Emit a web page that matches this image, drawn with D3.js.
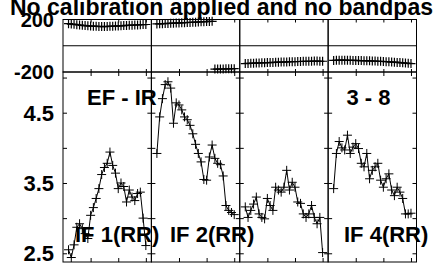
<!DOCTYPE html>
<html>
<head>
<meta charset="utf-8">
<script src="https://cdn.jsdelivr.net/npm/d3@7"></script>
<style>
  body { margin: 0; background: #fff; }
  svg { display: block; font-family: "Liberation Sans", Arial, sans-serif; font-weight: bold; }
  .frame { fill: none; stroke: #000; stroke-width: 1; }
  .axis path { display: none; }
  .axis line { stroke: #000; stroke-width: 1; }
</style>
</head>
<body>
<div id="chart-area"></div>
<script>
// DATA
var channels = [4, 6, 8, 10, 12, 14, 16, 18, 20, 22, 24, 26, 28, 30, 32, 34, 36, 38, 40, 42, 44, 46, 48, 50, 52, 54, 56, 58, 60];

var ampIF1 = [2.55, 2.44, 2.62, 2.87, 2.92, 2.85, 2.78, 2.71, 3.04, 3.15, 3.28, 3.42, 3.62, 3.72, 3.78, 3.94, 3.75, 3.64, 3.42, 3.50, 3.45, 3.23, 3.40, 3.30, 3.25, 3.35, 3.37, 3.00, 2.61];
var ampIF2 = [3.92, 4.44, 4.70, 4.90, 4.94, 4.85, 4.35, 4.64, 4.61, 4.54, 4.44, 4.40, 4.32, 4.20, 4.05, 3.92, 3.80, 3.55, 3.54, 3.87, 4.04, 3.85, 3.78, 3.76, 3.60, 3.18, 3.11, 3.08, 3.05];
var ampIF3 = [3.16, 3.01, 3.11, 3.20, 3.30, 3.06, 3.01, 2.99, 3.28, 3.18, 3.11, 3.44, 3.40, 3.37, 3.44, 3.68, 3.40, 3.51, 3.44, 3.23, 3.21, 3.06, 3.01, 3.06, 3.18, 3.01, 2.92, 3.01, 2.51];
var ampIF4 = [3.42, 3.92, 4.09, 4.00, 3.97, 4.18, 3.92, 4.01, 4.06, 3.99, 3.78, 3.73, 3.92, 3.56, 3.68, 3.73, 3.78, 3.54, 3.44, 3.56, 3.63, 3.40, 3.32, 3.44, 3.37, 3.28, 3.06, 3.06, 3.07];

var phaseIF1 = [168, 165, 163, 160, 158, 156, 154, 152, 150, 149, 148, 147, 146, 146, 147, 148, 149, 150, 151, 152, 154, 155, 156, 157, 158, 159, 160, 161, 162];
var phaseIF2 = [166, 167, 168, 169, 170, 171, 172, 173, 174, 175, 176, 177, 178, 179, 180, 181, 182, 183, 184, 185, 186, -178, -178, -177, -177, -176, -176, -175, -175];
var phaseIF3 = [-136, -135, -134, -133, -132, -131, -130, -129, -128, -128, -127, -126, -125, -124, -124, -123, -122, -122, -121, -120, -120, -119, -119, -118, -118, -117, -117, -118, -118];
var phaseIF4 = [-112, -111, -110, -110, -110, -111, -111, -112, -112, -113, -113, -114, -115, -115, -116, -117, -118, -119, -120, -121, -122, -124, -125, -127, -128, -130, -132, -134, -136];

var ampTicks = [2.5, 3.0, 3.5, 4.0, 4.5, 5.0];
var ampLabels = [2.5, 3.5, 4.5];
var phaseLabels = [200, -200];
var chanTicks = [20, 40, 60];

var panels = [
  { amp: ampIF1, phase: phaseIF1, label: "IF 1(RR)", lx: 75 },
  { amp: ampIF2, phase: phaseIF2, label: "IF 2(RR)", lx: 170 },
  { amp: ampIF3, phase: phaseIF3, label: "", lx: 0 },
  { amp: ampIF4, phase: phaseIF4, label: "IF 4(RR)", lx: 344 }
];

// LAYOUT
var W = 433, H = 264;
var left = 63, right = 416.5;
var pw = (right - left) / 4;
var phTop = 19.5, phBot = 72, ampBot = 262;

var svg = d3.select("#chart-area").append("svg")
    .attr("width", W)
    .attr("height", H);

var yPh = d3.scaleLinear().domain([-200, 200]).range([phBot, phTop]);
var yAmp = d3.scaleLinear().domain([2.376, 5.079]).range([ampBot, phBot]);

var cross = "M-4.5,0H4.5M0,-4.5V4.5";

panels.forEach(function(p, i) {
    var x0 = left + i * pw;
    var x = d3.scaleLinear().domain([0, 64]).range([x0, x0 + pw]);
    var g = svg.append("g");

    // ticks
    g.append("g").attr("class", "axis")
        .attr("transform", "translate(0," + phBot + ")")
        .call(d3.axisBottom(x).tickValues(chanTicks).tickSize(-3).tickFormat(""));
    g.append("g").attr("class", "axis")
        .attr("transform", "translate(0," + phTop + ")")
        .call(d3.axisTop(x).tickValues(chanTicks).tickSize(-3).tickFormat(""));
    g.append("g").attr("class", "axis")
        .attr("transform", "translate(0," + phBot + ")")
        .call(d3.axisTop(x).tickValues(chanTicks).tickSize(-4).tickFormat(""));
    g.append("g").attr("class", "axis")
        .attr("transform", "translate(0," + ampBot + ")")
        .call(d3.axisBottom(x).tickValues(chanTicks).tickSize(-4).tickFormat(""));
    g.append("g").attr("class", "axis")
        .attr("transform", "translate(" + x0 + ",0)")
        .call(d3.axisLeft(yAmp).tickValues(ampTicks).tickSize(-4).tickFormat(""));
    g.append("g").attr("class", "axis")
        .attr("transform", "translate(" + (x0 + pw) + ",0)")
        .call(d3.axisRight(yAmp).tickValues(ampTicks).tickSize(-4).tickFormat(""));

    // zero line in phase
    g.append("line")
        .attr("x1", x0).attr("x2", x0 + pw)
        .attr("y1", yPh(0)).attr("y2", yPh(0))
        .attr("stroke", "#000");

    // frames
    g.append("rect").attr("class", "frame")
        .attr("x", x0).attr("y", phTop).attr("width", pw).attr("height", phBot - phTop);
    g.append("rect").attr("class", "frame")
        .attr("x", x0).attr("y", phBot).attr("width", pw).attr("height", ampBot - phBot)
        .attr("stroke", "#666").attr("stroke-width", 1.5);

    // phase points
    g.selectAll(".ph").data(p.phase).enter().append("path")
        .attr("d", cross)
        .attr("transform", function(d, j) { return "translate(" + x(channels[j]) + "," + yPh(d) + ")"; })
        .attr("stroke", "#000").attr("stroke-width", 1.2).attr("fill", "none");

    // amplitude line + points
    var line = d3.line()
        .x(function(d, j) { return x(channels[j]); })
        .y(function(d) { return yAmp(d); });
    g.append("path").datum(p.amp)
        .attr("d", line)
        .attr("fill", "none").attr("stroke", "#000").attr("stroke-width", 1);
    g.selectAll(".am").data(p.amp).enter().append("path")
        .attr("d", cross)
        .attr("transform", function(d, j) { return "translate(" + x(channels[j]) + "," + yAmp(d) + ")"; })
        .attr("stroke", "#000").attr("fill", "none");

    if (p.label) {
        svg.append("text")
            .attr("x", p.lx).attr("y", 242)
            .attr("font-size", "22px")
            .text(p.label);
    }
});

// LABELS
svg.append("text").attr("x", 87).attr("y", 105).attr("font-size", "22px").text("EF - IR");
svg.append("text").attr("x", 346.5).attr("y", 105).attr("font-size", "22px").text("3 - 8");

phaseLabels.forEach(function(v) {
    svg.append("text")
        .attr("x", 54).attr("y", yPh(v)).attr("dy", "0.36em")
        .attr("text-anchor", "end")
        .attr("font-size", "20px")
        .text(v);
});
ampLabels.forEach(function(v) {
    svg.append("text")
        .attr("x", 54).attr("y", yAmp(v)).attr("dy", "0.36em")
        .attr("text-anchor", "end")
        .attr("font-size", "22px")
        .text(d3.format(".1f")(v));
});

// TITLE
svg.append("text")
    .attr("x", 10).attr("y", 14.5)
    .attr("font-size", "23px")
    .text("No calibration applied and no bandpass");
</script>
</body>
</html>
